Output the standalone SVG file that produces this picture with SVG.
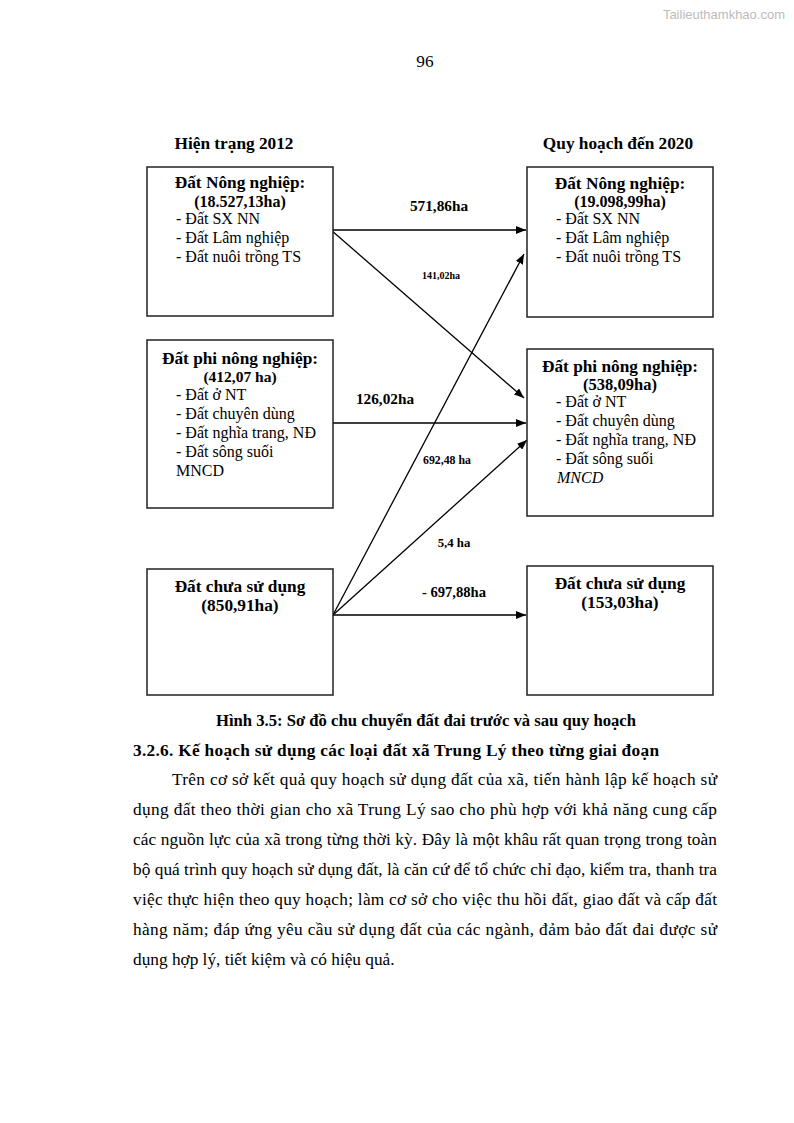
<svg xmlns="http://www.w3.org/2000/svg" width="794" height="1123" viewBox="0 0 794 1123">
<defs>
<style>
text{font-family:"Liberation Serif","Times New Roman",serif;fill:#000}
.b{font-weight:bold}
.t{font-size:17.3px;font-weight:bold;text-anchor:middle}
.n{font-size:16px;font-weight:bold;text-anchor:middle}
.i{font-size:16px}
.box{fill:#fff;stroke:#222;stroke-width:1.5}
.c{stroke:#000;stroke-width:1.3;fill:none;marker-end:url(#ah)}
.body{font-size:17.3px}
</style>
<marker id="ah" markerUnits="userSpaceOnUse" markerWidth="10" markerHeight="8" refX="10" refY="4" orient="auto">
<path d="M0,0 L10,4 L0,8 z" fill="#000"/>
</marker>
</defs>
<rect width="794" height="1123" fill="#fff"/>
<text x="785" y="19" text-anchor="end" style="font-family:'Liberation Sans',Arial,sans-serif;font-size:13px;fill:#bbb">Tailieuthamkhao.com</text>
<text x="425" y="67" text-anchor="middle" class="body">96</text>

<text x="234" y="149" class="t">Hiện trạng 2012</text>
<text x="618" y="149" class="t">Quy hoạch đến 2020</text>

<g id="connectors">
<line x1="331" y1="230" x2="526" y2="230" class="c"/>
<line x1="331" y1="230" x2="524" y2="398" class="c"/>
<line x1="333" y1="423" x2="526" y2="423" class="c"/>
<line x1="333" y1="615" x2="524" y2="254" class="c"/>
<line x1="333" y1="615" x2="527" y2="440" class="c"/>
<line x1="333" y1="615" x2="526" y2="615" class="c"/>
<text x="439" y="211" class="b" style="font-size:15.3px;text-anchor:middle">571,86ha</text>
<text x="441" y="279" class="b" style="font-size:10px;text-anchor:middle">141,02ha</text>
<text x="385" y="404" class="b" style="font-size:15.3px;text-anchor:middle">126,02ha</text>
<text x="447" y="464" class="b" style="font-size:11.8px;text-anchor:middle">692,48 ha</text>
<text x="454" y="547" class="b" style="font-size:12.8px;text-anchor:middle">5,4 ha</text>
<text x="454" y="597" class="b" style="font-size:14.6px;text-anchor:middle">- 697,88ha</text>
</g>

<g id="left-nn">
<rect x="147" y="167" width="186" height="149" class="box"/>
<text x="240" y="188" class="t">Đất Nông nghiệp:</text>
<text x="240" y="207" class="n">(18.527,13ha)</text>
<text x="176" y="224" class="i">- Đất SX NN</text>
<text x="176" y="243" class="i">- Đất Lâm nghiệp</text>
<text x="176" y="262" class="i">- Đất nuôi trồng TS</text>
</g>

<g id="right-nn">
<rect x="527" y="167" width="186" height="150" class="box"/>
<text x="620" y="189" class="t">Đất Nông nghiệp:</text>
<text x="620" y="207" class="n">(19.098,99ha)</text>
<text x="556" y="224" class="i">- Đất SX NN</text>
<text x="556" y="243" class="i">- Đất Lâm nghiệp</text>
<text x="556" y="262" class="i">- Đất nuôi trồng TS</text>
</g>

<g id="left-pnn">
<rect x="147" y="340" width="186" height="168" class="box"/>
<text x="240" y="364" class="t">Đất phi nông nghiệp:</text>
<text x="240" y="382" class="n" style="font-size:15.5px">(412,07 ha)</text>
<text x="176" y="400" class="i">- Đất ở NT</text>
<text x="176" y="419" class="i">- Đất chuyên dùng</text>
<text x="176" y="438" class="i">- Đất nghĩa trang, NĐ</text>
<text x="176" y="457" class="i">- Đất sông suối</text>
<text x="176" y="476" class="i">MNCD</text>
</g>

<g id="right-pnn">
<rect x="527" y="349" width="186" height="167" class="box"/>
<text x="620" y="372" class="t">Đất phi nông nghiệp:</text>
<text x="620" y="390" class="n" style="font-size:16.5px">(538,09ha)</text>
<text x="556" y="407" class="i">- Đất ở NT</text>
<text x="556" y="426" class="i">- Đất chuyên dùng</text>
<text x="556" y="445" class="i">- Đất nghĩa trang, NĐ</text>
<text x="556" y="464" class="i">- Đất sông suối</text>
<text x="557" y="483" class="i" font-style="italic">MNCD</text>
</g>

<g id="left-csd">
<rect x="147" y="569" width="186" height="126" class="box"/>
<text x="240" y="592" class="t">Đất chưa sử dụng</text>
<text x="240" y="611" class="t">(850,91ha)</text>
</g>

<g id="right-csd">
<rect x="527" y="566" width="186" height="129" class="box"/>
<text x="620" y="589" class="t">Đất chưa sử dụng</text>
<text x="620" y="608" class="t">(153,03ha)</text>
</g>

<text x="216" y="726" class="body b" textLength="420" lengthAdjust="spacingAndGlyphs">Hình 3.5: Sơ đồ chu chuyển đất đai trước và sau quy hoạch</text>
<text x="133" y="756" class="body b" textLength="526" lengthAdjust="spacing">3.2.6. Kế hoạch sử dụng các loại đất xã Trung Lý theo từng giai đoạn</text>

<text x="172" y="785" class="body" textLength="545" lengthAdjust="spacing">Trên cơ sở kết quả quy hoạch sử dụng đất của xã, tiến hành lập kế hoạch sử</text>
<text x="133" y="815" class="body" textLength="584" lengthAdjust="spacing">dụng đất theo thời gian cho xã Trung Lý sao cho phù hợp với khả năng cung cấp</text>
<text x="133" y="845" class="body" textLength="584" lengthAdjust="spacing">các nguồn lực của xã trong từng thời kỳ. Đây là một khâu rất quan trọng trong toàn</text>
<text x="133" y="875" class="body" textLength="584" lengthAdjust="spacing">bộ quá trình quy hoạch sử dụng đất, là căn cứ để tổ chức chỉ đạo, kiểm tra, thanh tra</text>
<text x="133" y="905" class="body" textLength="584" lengthAdjust="spacing">việc thực hiện theo quy hoạch; làm cơ sở cho việc thu hồi đất, giao đất và cấp đất</text>
<text x="133" y="935" class="body" textLength="584" lengthAdjust="spacing">hàng năm; đáp ứng yêu cầu sử dụng đất của các ngành, đảm bảo đất đai được sử</text>
<text x="133" y="965" class="body">dụng hợp lý, tiết kiệm và có hiệu quả.</text>
</svg>
